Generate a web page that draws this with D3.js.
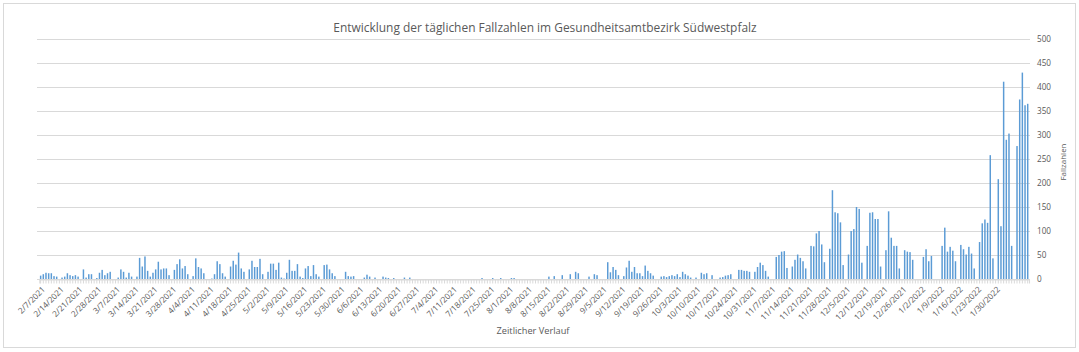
<!DOCTYPE html>
<html><head><meta charset="utf-8">
<script src="https://cdn.jsdelivr.net/npm/d3@7"></script>
<style>body{margin:0;background:#fff}svg{display:block}</style>
</head><body>
<svg id="c" width="1079" height="352"></svg>
<script>
const chartTitle = "Entwicklung der täglichen Fallzahlen im Gesundheitsamtbezirk Südwestpfalz";
const xTitle = "Zeitlicher Verlauf";
const yTitle = "Fallzahlen";
const startDate = "2021-02-07";
// daily case numbers, one per day from 2/7/2021
const values = [
  7,10,13,12,12,6,5,
  0,3,5,12,8,6,8,
  5,0,20,3,10,10,0,
  2,13,19,8,12,15,0,
  0,3,20,15,3,13,5,
  0,5,44,26,47,17,5,
  13,20,36,20,22,22,8,
  0,19,31,41,22,27,10,
  0,6,43,25,22,12,0,
  0,1,10,37,31,12,5,
  0,26,38,30,55,22,15,
  0,20,38,25,25,42,10,
  0,15,32,32,19,34,3,
  1,13,40,17,17,31,5,
  2,22,27,6,29,10,5,
  0,29,30,20,12,6,0,
  0,0,15,6,5,6,0,
  0,0,3,9,5,0,3,
  0,0,5,3,2,0,2,
  0,0,0,3,0,3,0,
  0,0,0,0,0,0,0,
  0,0,0,0,0,0,0,
  0,0,0,0,0,0,0,
  0,0,0,0,2,0,0,
  0,2,0,0,2,0,0,
  0,2,2,0,0,0,0,
  0,0,0,0,0,0,0,
  0,5,0,6,0,0,8,
  0,0,10,0,15,12,0,
  0,0,5,0,10,8,0,
  0,0,35,14,25,19,8,
  0,6,24,38,15,25,12,
  12,6,28,17,12,7,0,
  0,5,6,4,6,8,6,
  10,4,15,10,7,3,0,
  3,0,13,10,12,0,8,
  0,0,3,4,7,8,10,
  0,0,19,19,17,17,15,
  0,15,25,34,29,17,5,
  0,0,46,50,57,58,23,
  0,26,40,51,44,37,22,
  0,69,68,95,100,72,35,
  0,63,185,139,137,118,29,
  0,51,100,104,150,146,34,
  0,69,138,139,125,125,26,
  0,60,141,86,69,69,22,
  0,60,57,56,40,0,0,
  0,46,62,37,48,0,0,
  0,69,107,57,67,59,37,
  0,71,62,51,67,53,22,
  0,77,116,124,117,258,43,
  0,208,110,411,290,303,69,
  0,277,374,430,362,365
];
const yTicks = [0,50,100,150,200,250,300,350,400,450,500];
const xTickLabels = [
  "2/7/2021","2/14/2021","2/21/2021","2/28/2021","3/7/2021","3/14/2021","3/21/2021","3/28/2021",
  "4/4/2021","4/11/2021","4/18/2021","4/25/2021","5/2/2021","5/9/2021","5/16/2021","5/23/2021","5/30/2021",
  "6/6/2021","6/13/2021","6/20/2021","6/27/2021","7/4/2021","7/11/2021","7/18/2021","7/25/2021",
  "8/1/2021","8/8/2021","8/15/2021","8/22/2021","8/29/2021","9/5/2021","9/12/2021","9/19/2021","9/26/2021",
  "10/3/2021","10/10/2021","10/17/2021","10/24/2021","10/31/2021","11/7/2021","11/14/2021","11/21/2021","11/28/2021",
  "12/5/2021","12/12/2021","12/19/2021","12/26/2021","1/2/2022","1/9/2022","1/16/2022","1/23/2022","1/30/2022"
];

const FONT = "'Open Sans', sans-serif";
const TXT = "#595959";
const svg = d3.select("#c");
svg.append("rect").attr("x",3.5).attr("y",3.5).attr("width",1072).attr("height",344)
  .attr("fill","#fff").attr("stroke","#d9d9d9");

const parse = d3.timeParse("%Y-%m-%d"), fmt = d3.timeFormat("%-m/%-d/%Y");
const start = parse(startDate);
const categories = values.map((v,i)=>fmt(d3.timeDay.offset(start,i)));

const x = d3.scaleBand().domain(categories).range([39.3,1029.05]).paddingInner(0.45).paddingOuter(0.225);
const y = d3.scaleLinear().domain([0,500]).range([279,39]);

// gridlines
const grid = svg.append("g").attr("transform","translate(1030,0)")
  .call(d3.axisRight(y).tickValues(yTicks).tickSize(-(1030-37)).tickFormat(""));
grid.select(".domain").remove();
grid.selectAll("line").attr("stroke","#d9d9d9").attr("stroke-width",1);

// bars
svg.append("g").selectAll("rect").data(values).join("rect")
  .attr("x",(d,i)=>x(categories[i]))
  .attr("width",x.bandwidth())
  .attr("y",d=>y(d))
  .attr("height",d=>y(0)-y(d))
  .attr("fill","#5b9bd5");

// x axis tick marks
const xt = svg.append("g").attr("transform","translate(0,279.5)")
  .call(d3.axisBottom(x).tickValues(categories).tickSize(4).tickFormat(""));
xt.select(".domain").attr("stroke","#d9d9d9");
xt.selectAll("line").attr("stroke","#d9d9d9");

// x labels
const xl = svg.append("g").attr("transform","translate(0,279)")
  .call(d3.axisBottom(x).tickValues(xTickLabels).tickSize(0).tickPadding(0));
xl.select(".domain").remove();
xl.selectAll("text")
  .attr("x",0).attr("y",0).attr("dy","0.35em")
  .attr("transform","translate(3,9) rotate(-45)")
  .style("text-anchor","end")
  .attr("fill",TXT).style("font-family",FONT).style("font-size","8.2px");

// y labels
const yl = svg.append("g").attr("transform","translate(1037,0)")
  .call(d3.axisRight(y).tickValues(yTicks).tickSize(0).tickPadding(0));
yl.select(".domain").remove();
yl.selectAll("text").attr("fill",TXT).style("font-family",FONT).style("font-size","8.2px");

function fit(sel, target){
  const w = sel.node().getComputedTextLength();
  const fs = parseFloat(sel.style("font-size"));
  sel.style("font-size",(fs*target/w)+"px");
}
const t = svg.append("text").attr("x",545).attr("y",32).attr("text-anchor","middle")
  .attr("fill",TXT).style("font-family",FONT).style("font-size","12px").text(chartTitle);
fit(t,424);
const xa = svg.append("text").attr("x",533).attr("y",334).attr("text-anchor","middle")
  .attr("fill",TXT).style("font-family",FONT).style("font-size","9px").text(xTitle);
fit(xa,73);
const ya = svg.append("text").attr("transform","translate(1066,162) rotate(-90)").attr("text-anchor","middle")
  .attr("fill",TXT).style("font-family",FONT).style("font-size","9px").text(yTitle);
fit(ya,37);
</script>
</body></html>
